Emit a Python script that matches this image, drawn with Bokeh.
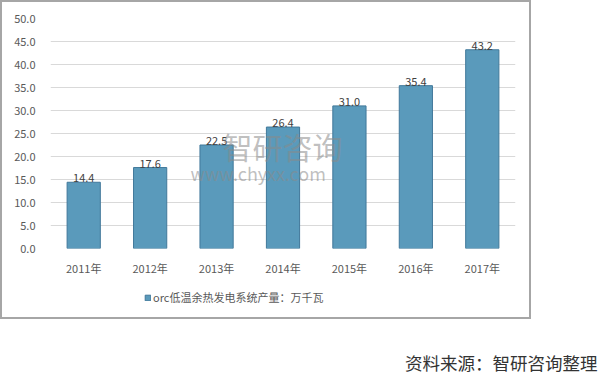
from bokeh.plotting import figure
from bokeh.layouts import column
from bokeh.models import ColumnDataSource, Label, Legend, LegendItem, FixedTicker, Range1d
from bokeh.core.properties import value
from bokeh.embed import file_html
from bokeh.resources import INLINE

years = ["2011年", "2012年", "2013年", "2014年", "2015年", "2016年", "2017年"]
output = [14.4, 17.6, 22.5, 26.4, 31.0, 35.4, 43.2]
labels = ["14.4", "17.6", "22.5", "26.4", "31.0", "35.4", "43.2"]
y_ticks = [0, 5, 10, 15, 20, 25, 30, 35, 40, 45, 50]
series_name = "orc低温余热发电系统产量：万千瓦"
source_note = "资料来源：智研咨询整理"

FONT = "Noto Sans CJK SC"
BAR_FILL = "#5a9abb"
BAR_LINE = "#41789a"

src = ColumnDataSource(dict(x=years, top=output, lab=labels))

# main chart
p = figure(width=527, height=276, x_range=years, y_range=Range1d(0, 50),
           output_backend="svg", toolbar_location=None,
           min_border_left=48, min_border_right=14, min_border_top=16, min_border_bottom=30)
p.outline_line_color = None
p.background_fill_color = "white"
p.border_fill_color = "white"

r = p.vbar(x="x", top="top", width=0.5, source=src, fill_color=BAR_FILL,
           line_color=BAR_LINE, line_width=1)
p.text(x="x", y="top", text="lab", source=src, text_align="center", text_baseline="bottom",
       y_offset=0, text_font=value(FONT), text_font_size="11px", text_color="#404040")

p.xgrid.grid_line_color = None
p.ygrid.grid_line_color = "#d9d9d9"
p.ygrid.ticker = FixedTicker(ticks=y_ticks)

p.yaxis.ticker = FixedTicker(ticks=y_ticks)
p.yaxis.major_label_overrides = {t: f"{t:.1f}" for t in y_ticks}
p.yaxis.axis_line_color = None
p.yaxis.major_tick_line_color = None
p.yaxis.minor_tick_line_color = None
p.yaxis.major_tick_out = 0
p.yaxis.minor_tick_out = 0
p.yaxis.major_label_standoff = 15
p.yaxis.major_label_text_font = FONT
p.yaxis.major_label_text_font_size = "11px"
p.yaxis.major_label_text_color = "#595959"

p.xaxis.axis_line_color = None
p.xaxis.major_tick_line_color = None
p.xaxis.major_tick_out = 0
p.xaxis.major_label_standoff = 11
p.xaxis.major_label_text_font = FONT
p.xaxis.major_label_text_font_size = "11px"
p.xaxis.major_label_text_color = "#595959"

# watermark
p.add_layout(Label(x=220, y=165, x_units="canvas", y_units="canvas", text="智研咨询",
                   text_font=FONT, text_font_size="30px", text_color="#8a8a8a", text_alpha=0.55))
p.add_layout(Label(x=188, y=183, x_units="canvas", y_units="canvas", text="www.chyxx.com",
                   text_font=FONT, text_font_size="18px", text_color="#8a8a8a", text_alpha=0.55))

# legend strip: same series, kept below its visible range so only the key shows
lg = figure(width=527, height=39, x_range=years, y_range=Range1d(1000, 1039),
            output_backend="svg", toolbar_location=None, min_border=0)
lg.axis.visible = False
lg.grid.visible = False
lg.outline_line_color = None
key = lg.vbar(x="x", top="top", width=0.5, source=src, fill_color=BAR_FILL, line_color=BAR_LINE)
legend = Legend(items=[LegendItem(label=series_name, renderers=[key])],
                location=(94, 12), orientation="horizontal",
                label_text_font=FONT, label_text_font_size="11px", label_text_color="#595959",
                glyph_width=7, glyph_height=7, label_standoff=2, padding=0, margin=0,
                label_height=14, border_line_color=None, background_fill_alpha=0)
lg.add_layout(legend, "center")

boxed = column(p, lg, spacing=0, styles={"border": "2px solid #a6a6a6"})

# source note strip
q = figure(width=600, height=64, x_range=Range1d(0, 600), y_range=Range1d(0, 64),
           output_backend="svg", toolbar_location=None, min_border=0)
q.axis.visible = False
q.grid.visible = False
q.outline_line_color = None
q.add_layout(Label(x=597, y=55, x_units="canvas", y_units="canvas", text=source_note,
                   text_align="right", text_font=FONT, text_font_size="17.5px", text_color="#333333"))

layout = column(boxed, q, spacing=0)
open("out.html", "w").write(file_html(layout, INLINE))
